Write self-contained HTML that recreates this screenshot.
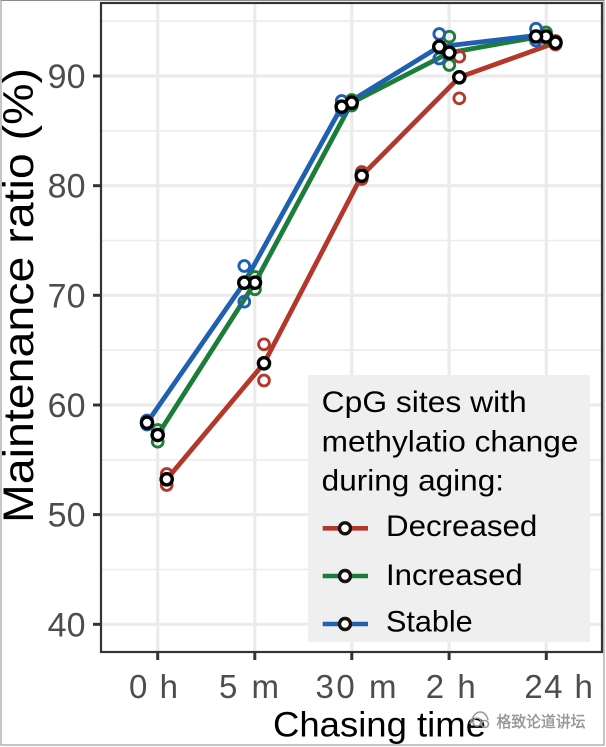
<!DOCTYPE html>
<html>
<head>
<meta charset="utf-8">
<style>
  html, body { margin:0; padding:0; background:#fff; }
  body { width:606px; height:747px; overflow:hidden; }
  svg { display:block; }
  text { font-family: "Liberation Sans", Arial, sans-serif; }
</style>
</head>
<body>
<svg width="606" height="747" viewBox="0 0 606 747" xmlns="http://www.w3.org/2000/svg">
  <rect x="0" y="0" width="606" height="747" fill="#fff"/>
  <rect x="1" y="0.5" width="603" height="744.5" fill="none" stroke="#8c8c8c" stroke-width="1"/>

  <rect x="101" y="3" width="501" height="649" fill="#fff"/>

  <g stroke="#ebebeb" stroke-width="1.6">
    <line x1="101" x2="602" y1="21.2" y2="21.2"/>
    <line x1="101" x2="602" y1="130.8" y2="130.8"/>
    <line x1="101" x2="602" y1="240.5" y2="240.5"/>
    <line x1="101" x2="602" y1="350.2" y2="350.2"/>
    <line x1="101" x2="602" y1="459.8" y2="459.8"/>
    <line x1="101" x2="602" y1="569.5" y2="569.5"/>
  </g>
  <g stroke="#ebebeb" stroke-width="3.2">
    <line x1="101" x2="602" y1="76" y2="76"/>
    <line x1="101" x2="602" y1="185.7" y2="185.7"/>
    <line x1="101" x2="602" y1="295.3" y2="295.3"/>
    <line x1="101" x2="602" y1="405" y2="405"/>
    <line x1="101" x2="602" y1="514.6" y2="514.6"/>
    <line x1="101" x2="602" y1="624.3" y2="624.3"/>
    <line x1="157.7" x2="157.7" y1="3" y2="652"/>
    <line x1="254.8" x2="254.8" y1="3" y2="652"/>
    <line x1="351.8" x2="351.8" y1="3" y2="652"/>
    <line x1="449.1" x2="449.1" y1="3" y2="652"/>
    <line x1="546.3" x2="546.3" y1="3" y2="652"/>
  </g>

  <g fill="none" stroke-width="4.8" stroke-linejoin="round" stroke-linecap="round">
    <polyline stroke="#b3382b" points="166.7,479.3 264,363.3 361.7,175.7 459.3,77.3 555.5,42.7"/>
    <polyline stroke="#1c7d3b" points="157.7,435 255,282.7 351.7,102.7 449.3,52.7 546,35.5"/>
    <polyline stroke="#2060b0" points="147,422.7 244.3,282.7 341.7,106.7 439.3,46.7 536,35.5"/>
  </g>

  <g fill="none" stroke-width="2.9">
    <g stroke="#b3382b">
      <circle cx="166.7" cy="474" r="5.4"/>
      <circle cx="166.7" cy="485" r="5.4"/>
      <circle cx="264" cy="344.3" r="5.4"/>
      <circle cx="264" cy="380.5" r="5.4"/>
      <circle cx="361.7" cy="172" r="5.4"/>
      <circle cx="361.7" cy="179" r="5.4"/>
      <circle cx="459.3" cy="56.7" r="5.4"/>
      <circle cx="459.3" cy="98.3" r="5.4"/>
      <circle cx="555.5" cy="41" r="5.4"/>
      <circle cx="555.5" cy="44.5" r="5.4"/>
    </g>
    <g stroke="#1c7d3b">
      <circle cx="157.7" cy="441.7" r="5.4"/>
      <circle cx="157.7" cy="430" r="5.4"/>
      <circle cx="255" cy="289.3" r="5.4"/>
      <circle cx="255" cy="277" r="5.4"/>
      <circle cx="351.7" cy="100" r="5.4"/>
      <circle cx="351.7" cy="105.5" r="5.4"/>
      <circle cx="449.3" cy="36.7" r="5.4"/>
      <circle cx="449.3" cy="65" r="5.4"/>
      <circle cx="546" cy="32.5" r="5.4"/>
      <circle cx="546" cy="38" r="5.4"/>
    </g>
    <g stroke="#2060b0">
      <circle cx="147" cy="420.5" r="5.4"/>
      <circle cx="147" cy="424.5" r="5.4"/>
      <circle cx="244.3" cy="266" r="5.4"/>
      <circle cx="244.3" cy="301.7" r="5.4"/>
      <circle cx="341.7" cy="101" r="5.4"/>
      <circle cx="341.7" cy="110" r="5.4"/>
      <circle cx="439.3" cy="34" r="5.4"/>
      <circle cx="439.3" cy="58.5" r="5.4"/>
      <circle cx="536" cy="28.7" r="5.4"/>
      <circle cx="536" cy="40.5" r="5.4"/>
    </g>
  </g>

  <g fill="#fff" stroke="#000" stroke-width="3.4">
    <circle cx="166.7" cy="479.3" r="5.6"/>
    <circle cx="264" cy="363.3" r="5.6"/>
    <circle cx="361.7" cy="175.7" r="5.6"/>
    <circle cx="459.3" cy="77.3" r="5.6"/>
    <circle cx="555.5" cy="42.7" r="5.6"/>

    <circle cx="157.7" cy="435" r="5.6"/>
    <circle cx="255" cy="282.7" r="5.6"/>
    <circle cx="351.7" cy="102.7" r="5.6"/>
    <circle cx="449.3" cy="52.7" r="5.6"/>
    <circle cx="546" cy="36.5" r="5.6"/>

    <circle cx="147" cy="422.7" r="5.6"/>
    <circle cx="244.3" cy="282.7" r="5.6"/>
    <circle cx="341.7" cy="106.7" r="5.6"/>
    <circle cx="439.3" cy="46.7" r="5.6"/>
    <circle cx="536" cy="36.5" r="5.6"/>
  </g>

  <rect x="308" y="375" width="282" height="267" fill="#efefef"/>
  <g font-size="30" fill="#000">
    <text x="321.7" y="412" textLength="205" lengthAdjust="spacingAndGlyphs">CpG sites with</text>
    <text x="321.7" y="451.5" textLength="256.7" lengthAdjust="spacingAndGlyphs">methylatio change</text>
    <text x="321.7" y="490.5" textLength="182.3" lengthAdjust="spacingAndGlyphs">during aging:</text>
    <text x="386" y="536" textLength="151.3" lengthAdjust="spacingAndGlyphs">Decreased</text>
    <text x="386" y="585" textLength="136.7" lengthAdjust="spacingAndGlyphs">Increased</text>
    <text x="386" y="631.7" textLength="86.7" lengthAdjust="spacingAndGlyphs">Stable</text>
  </g>
  <g stroke-width="4.6">
    <line x1="322.7" x2="368" y1="528.3" y2="528.3" stroke="#b3382b"/>
    <line x1="322.7" x2="368" y1="576" y2="576" stroke="#1c7d3b"/>
    <line x1="322.7" x2="368" y1="624" y2="624" stroke="#2060b0"/>
  </g>
  <g fill="#fff" stroke="#1a0f0f" stroke-width="3.4">
    <circle cx="345" cy="528.3" r="5.5"/>
    <circle cx="345" cy="576" r="5.5"/>
    <circle cx="345" cy="624" r="5.5"/>
  </g>

  <rect x="101" y="3" width="501" height="649" fill="none" stroke="#333" stroke-width="2.2"/>

  <g stroke="#333" stroke-width="3">
    <line x1="93" x2="100" y1="76" y2="76"/>
    <line x1="93" x2="100" y1="185.7" y2="185.7"/>
    <line x1="93" x2="100" y1="295.3" y2="295.3"/>
    <line x1="93" x2="100" y1="405" y2="405"/>
    <line x1="93" x2="100" y1="514.6" y2="514.6"/>
    <line x1="93" x2="100" y1="624.3" y2="624.3"/>
  </g>
  <g font-size="34" fill="#4d4d4d" text-anchor="end">
    <text x="85.5" y="88">90</text>
    <text x="85.5" y="197.7">80</text>
    <text x="85.5" y="307.3">70</text>
    <text x="85.5" y="417">60</text>
    <text x="85.5" y="526.6">50</text>
    <text x="85.5" y="636.3">40</text>
  </g>

  <g stroke="#333" stroke-width="3">
    <line x1="157.7" x2="157.7" y1="653" y2="660"/>
    <line x1="254.8" x2="254.8" y1="653" y2="660"/>
    <line x1="351.8" x2="351.8" y1="653" y2="660"/>
    <line x1="449.1" x2="449.1" y1="653" y2="660"/>
    <line x1="546.3" x2="546.3" y1="653" y2="660"/>
  </g>
  <g font-size="33" fill="#4d4d4d">
    <text x="129" y="698" textLength="49">0 h</text>
    <text x="219" y="698" textLength="60">5 m</text>
    <text x="315.5" y="698" textLength="81">30 m</text>
    <text x="425.7" y="698" textLength="50">2 h</text>
    <text x="524.4" y="698" textLength="68.5">24 h</text>
  </g>

  <text x="273" y="736.5" font-size="35" fill="#000" textLength="213" lengthAdjust="spacingAndGlyphs">Chasing time</text>
  <text transform="translate(33,295.5) rotate(-90)" x="0" y="0" font-size="43" fill="#000" text-anchor="middle" textLength="455" lengthAdjust="spacingAndGlyphs">Maintenance ratio (%)</text>

  <g fill="none" stroke="#9a9a9a" stroke-width="1.6">
    <path d="M470,724 q4,-12 10,-12 q6,0 8,8"/>
    <circle cx="477" cy="722" r="4"/>
    <circle cx="485" cy="724" r="3.5"/>
  </g>
  <text x="496.5" y="727" font-family="'Liberation Sans','Noto Sans CJK SC',sans-serif" font-size="15.5" fill="#a0a0a0" stroke="#7a7a7a" stroke-width="0.3" textLength="89" lengthAdjust="spacingAndGlyphs">格致论道讲坛</text>
</svg>
</body>
</html>
